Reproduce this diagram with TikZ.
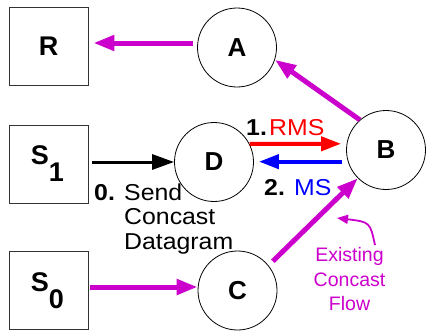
\documentclass[tikz,border=0pt]{standalone}
\usepackage{fontspec}
\setmainfont{Liberation Sans}
\newfontfamily\widesans[FakeStretch=1.08]{Liberation Sans}
\usetikzlibrary{arrows.meta}
\definecolor{flowmag}{RGB}{204,0,204}
\definecolor{rmsred}{RGB}{255,0,0}
\definecolor{msblue}{RGB}{0,0,255}

\begin{document}
\begin{tikzpicture}[x=1pt,y=-1pt,
  hostbox/.style={draw=black!80, line width=0.9pt, minimum width=79pt,
    minimum height=78pt, inner sep=0pt, font=\fontsize{27}{32}\selectfont\bfseries},
  router/.style={draw, circle, line width=0.8pt, minimum size=79pt,
    inner sep=0pt, font=\fontsize{26}{30}\selectfont\bfseries},
  flow/.style={draw=flowmag, line width=5pt, -{Triangle[length=21pt,width=15pt]}},
  sendarrow/.style={draw=black, line width=3pt, -{Triangle[length=22pt,width=15pt]}},
  msgarrow/.style={line width=4pt, -{Triangle[length=20pt,width=14pt]}},
  notearrow/.style={draw=flowmag, line width=1.8pt, -{Triangle[length=11pt,width=9pt]}},
  txt/.style={inner sep=0pt, font=\widesans\fontsize{23}{25}\selectfont},
  steplabel/.style={txt, font=\widesans\fontsize{23}{25}\selectfont\bfseries},
  note/.style={inner sep=0pt, text=flowmag, font=\fontsize{19.5}{22}\selectfont},
]
\useasboundingbox (0,0) rectangle (427,332);

% hosts
\node[hostbox] (R)  at (48.5,46.5) {R};
\node[hostbox] (S1) at (48.5,164)  {S\raisebox{-17pt}{1}\kern2pt};
\node[hostbox] (S0) at (48.5,290.5) {S\raisebox{-17pt}{0}\kern2pt};

% routers
\node[router] (A) at (237,47.5)  {A};
\node[router] (D) at (214,162)   {D};
\node[router] (B) at (386,150)   {B};
\node[router] (C) at (237.5,290.5) {C};

% existing concast flow
\draw[flow, shorten <=4pt, shorten >=5pt]
  ([yshift=4.5pt]A.west) -- ([yshift=4.5pt]A.west -| R.east);
\draw[flow] (B.131) -- (A.-18);
\draw[flow, shorten <=6pt] (C.39) -- (B.225);
\draw[flow, shorten <=2pt] ([yshift=3.5pt]S0.east) -- ([yshift=3.5pt]S0.east -| C.west);

% datagram from S1 to D
\draw[sendarrow, shorten <=4pt] (S1.east |- D.west) -- (D.west);

% RMS and MS exchange between D and B
\draw[msgarrow, draw=rmsred, shorten >=5.5pt] (D.27) -- (B.171);
\draw[msgarrow, draw=msblue, shorten <=5.5pt, shorten >=5pt] (B.197) -- (B.197 -| D.east);

% labels
\node[steplabel, anchor=base west] (step0) at (94,200) {0.};
\node[txt, anchor=base west] (send1) at (124,200) {Send};
\node[txt, anchor=base west] (send2) at (124,224.5) {Concast};
\node[txt, anchor=base west] (send3) at (124,249) {Datagram};

\node[steplabel, anchor=base west] (step1) at (246,135) {1.};
\node[txt, anchor=base west, text=rmsred] (rms) at (269,135) {RMS};
\node[steplabel, anchor=base west] (step2) at (264,195) {2.};
\node[txt, anchor=base west, text=msblue] (ms) at (294,195) {MS};

\node[note, anchor=base] (note1) at (349.5,261) {Existing};
\node[note, anchor=base] (note2) at (349.5,286) {Concast};
\node[note, anchor=base] (note3) at (349.5,310.5) {Flow};

\coordinate (notestart) at (375,245);
\coordinate (notetip) at (337,218);
\draw[notearrow] (notestart) .. controls (370,222) .. (notetip);
\end{tikzpicture}
\end{document}
